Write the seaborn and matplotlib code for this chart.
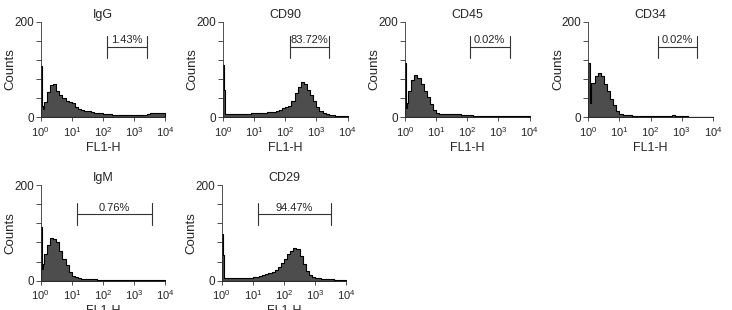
import numpy as np
import pandas as pd
import matplotlib
matplotlib.use("Agg")
import matplotlib.pyplot as plt
import seaborn as sns

markers = ["IgG", "CD90", "CD45", "CD34", "IgM", "CD29"]
percents = ["1.43%", "83.72%", "0.02%", "0.02%", "0.76%", "94.47%"]

# gate bracket per panel (FL1-H units) and its height in counts
gate_lo = [135, 145, 120, 174, 14.8, 15.1]
gate_hi = [2570, 2630, 2340, 3090, 3630, 3240]
gate_y = [148, 148, 148, 148, 139, 139]

# bins in decades; the two narrow ones at 10^0 hold the piled-up events
bin_edges_log = [0, 0.04, 0.08] + [round(0.1 * k, 1) for k in range(1, 41)]

igg = [107, 24, 18,
       32, 52, 68, 70, 56, 46, 40, 35, 33,
       30, 21, 17, 16, 14, 13, 12, 10, 10, 8,
       7, 6, 6, 5, 5, 5, 4, 4, 4, 4,
       4, 4, 4, 5, 7, 8, 9, 10, 10, 10]
cd90 = [109, 58, 6,
        7, 6, 7, 6, 7, 6, 7, 7, 8,
        8, 9, 9, 10, 11, 11, 12, 14, 16, 19,
        21, 24, 34, 50, 64, 74, 70, 58, 47, 34,
        22, 13, 8, 6, 4, 4, 3, 3, 3, 3]
cd45 = [113, 20, 30,
        55, 78, 88, 82, 70, 56, 42, 28, 16,
        9, 6, 6, 7, 6, 7, 6, 6, 5, 5,
        4, 4, 3, 3, 3, 3, 2, 2, 2, 2,
        2, 2, 2, 2, 2, 2, 2, 2, 2, 2]
cd34 = [113, 29, 48,
        72, 86, 92, 86, 70, 54, 38, 26, 13,
        6, 5, 4, 4, 3, 3, 2, 2, 2, 2,
        2, 2, 2, 2, 2, 2, 2, 4, 2, 2,
        2, 2, 1, 1, 1, 1, 1, 1, 1, 1]
igm = [113, 24, 35,
       55, 75, 90, 88, 80, 62, 46, 32, 18,
       10, 7, 5, 4, 4, 3, 3, 3, 2, 2,
       2, 2, 2, 2, 2, 2, 2, 2, 2, 2,
       2, 2, 2, 2, 2, 2, 2, 2, 2, 2]
cd29 = [98, 53, 5,
        5, 6, 5, 6, 5, 6, 6, 6, 6,
        7, 8, 9, 11, 13, 16, 19, 23, 29, 37,
        46, 55, 63, 68, 66, 52, 34, 20, 12, 8,
        6, 5, 4, 4, 3, 3, 2, 2, 2, 2]
counts = [igg, cd90, cd45, cd34, igm, cd29]

sns.set_style("ticks")
plt.rcParams["font.family"] = ["Liberation Sans", "DejaVu Sans"]
plt.rcParams["mathtext.default"] = "regular"

edges = 10 ** np.array(bin_edges_log)
centers = np.sqrt(edges[:-1] * edges[1:])

W, H = 732, 310
fig = plt.figure(figsize=(W / 100, H / 100), dpi=100)

# axes frames in pixels: left, bottom (from top)
frames = [(40.7, 117.3), (223.0, 117.3), (405.0, 117.3), (588.3, 117.3),
          (40.7, 280.7), (221.7, 280.7)]
aw, ah = 124.5, 95.6

for i, name in enumerate(markers):
    x0, yb = frames[i]
    ax = fig.add_axes([x0 / W, 1 - yb / H, aw / W, ah / H])
    df = pd.DataFrame({"fl1": centers, "n": counts[i]})
    sns.histplot(data=df, x="fl1", weights="n", bins=list(edges),
                 element="step", fill=True, color="#4d4d4d", alpha=1,
                 edgecolor="black", linewidth=0.8, ax=ax)
    ax.set_xscale("log")
    ax.set_xlim(1, 1e4)
    ax.set_ylim(0, 200)
    ax.set_xticks([1, 10, 100, 1000, 10000])
    ax.minorticks_off()
    ax.set_yticks([0, 40, 80, 120, 160, 200])
    ax.set_yticklabels(["0", "", "", "", "", "200"])
    ax.tick_params(axis="x", length=3, width=0.6, pad=2.5, labelsize=8,
                   color="#333333")
    ax.tick_params(axis="y", length=3.5, width=0.6, pad=1.5, labelsize=8.5,
                   color="#333333")
    for s in ["left", "bottom"]:
        ax.spines[s].set_linewidth(0.6)
        ax.spines[s].set_color("#333333")
    sns.despine(ax=ax)
    ax.set_title(name, fontsize=9, pad=3)
    ax.set_xlabel("FL1-H", fontsize=9, labelpad=2)
    ax.set_ylabel("Counts", fontsize=9.5)
    ax.yaxis.set_label_coords(-0.195, 0.5)

    # gate bracket with percentage
    lo, hi, gy = gate_lo[i], gate_hi[i], gate_y[i]
    ax.plot([lo, hi], [gy, gy], color="#333333", lw=0.8)
    ax.plot([lo, lo], [gy - 23, gy + 23], color="#333333", lw=0.8)
    ax.plot([hi, hi], [gy - 23, gy + 23], color="#333333", lw=0.8)
    ax.text(np.sqrt(lo * hi), gy + 3, percents[i], ha="center", va="bottom",
            fontsize=8)

fig.savefig("out.png", dpi=100)
